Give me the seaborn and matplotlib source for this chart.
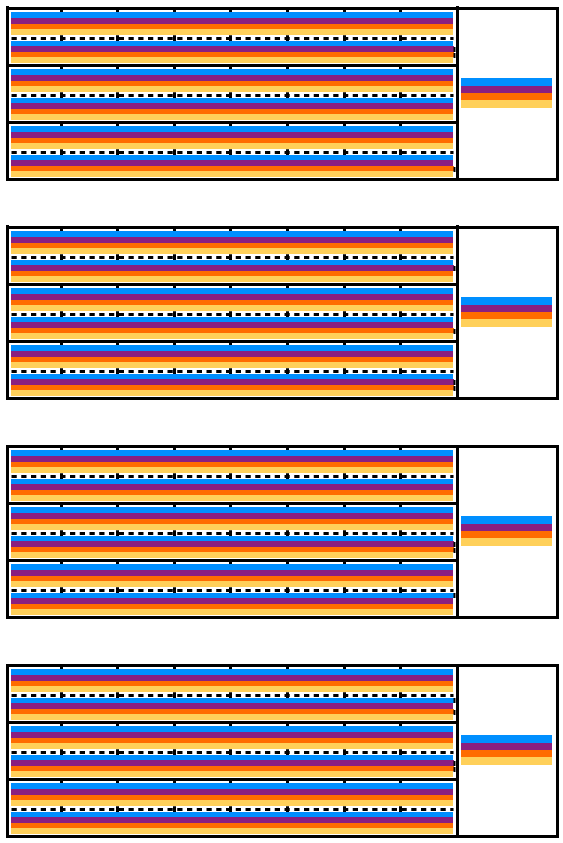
import numpy as np
import pandas as pd
import matplotlib
matplotlib.use("Agg")
import matplotlib.pyplot as plt
import seaborn as sns

# ---------------- data ----------------
categories = ["A", "B"]
series = ["S1", "S2", "S3", "S4"]
colors = ["#008FFF", "#8A1F80", "#FF6C00", "#FFD05A"]
bar_value = 100.0
spread_value = 100.5
# (panel, row, category, series) of bars that carry a small visible error range
spread_bars = [
    (0, 0, "B", "S2"), (0, 0, "B", "S3"), (0, 2, "B", "S3"),
    (1, 0, "B", "S2"), (1, 1, "B", "S3"), (1, 2, "B", "S2"), (1, 2, "B", "S3"),
    (2, 1, "B", "S2"), (2, 1, "B", "S3"), (2, 2, "B", "S1"),
    (3, 0, "B", "S1"), (3, 0, "B", "S3"), (3, 1, "B", "S2"), (3, 1, "B", "S3"),
]
tick_values = [11.2, 24.0, 36.8, 49.6, 62.5, 75.3, 88.1]
n_panels = 4
n_rows = 3

records = []
for p in range(n_panels):
    for r in range(n_rows):
        for c in categories:
            for s in series:
                records.append((p, r, c, s, bar_value))
                if (p, r, c, s) in spread_bars:
                    records.append((p, r, c, s, spread_value))
df = pd.DataFrame(records, columns=["panel", "row", "category", "series", "value"])

# ---------------- plot ----------------
sns.set_theme(style="white")
plt.rcParams["font.family"] = ["DejaVu Sans"]

W, H = 563, 843
fig = plt.figure(figsize=(W / 100, H / 100), dpi=100)
outer = fig.add_gridspec(n_panels, 1, left=7.5 / W, right=556.5 / W,
                         top=1 - 7.5 / H, bottom=1 - 835.5 / H, hspace=48 / 171)
lw = 2.16
y_bottom, y_top = 1.45, -0.57
mid_loc = (y_bottom - 0.5) / (y_bottom - y_top)

for p in range(n_panels):
    inner = outer[p].subgridspec(n_rows, 2, width_ratios=[449, 100], hspace=0, wspace=0)
    handles = None
    for r in range(n_rows):
        ax = fig.add_subplot(inner[r, 0])
        sub = df[(df.panel == p) & (df.row == r)]
        sns.barplot(data=sub, x="value", y="category", hue="series",
                    order=categories, hue_order=series, palette=colors,
                    saturation=1, width=0.8, orient="h",
                    errorbar=("pi", 100), linewidth=0, edgecolor="none",
                    err_kws={"color": "black", "linewidth": 3.6, "solid_capstyle": "butt"},
                    ax=ax, legend=(r == 0))
        if r == 0:
            handles, _ = ax.get_legend_handles_labels()
            ax.get_legend().remove()
        ax.set_xlim(-0.8, 100.8)
        ax.set_ylim(y_bottom, y_top)
        ax.hlines(0.5, 0, bar_value, colors="black", linewidth=lw,
                  linestyles=(0, (1.75, 1.5)), zorder=3)
        ax.set_xticks(tick_values)
        ax.tick_params(axis="x", top=True, bottom=False, direction="in", length=3.3,
                       width=lw, labeltop=False, labelbottom=False, color="black")
        ax.tick_params(axis="y", left=False, labelleft=False)
        ax.set_xlabel("")
        ax.set_ylabel("")
        for sp in ax.spines.values():
            sp.set_visible(True)
            sp.set_linewidth(lw)
            sp.set_color("black")
        sec = ax.secondary_xaxis(mid_loc)
        sec.set_xticks(tick_values)
        sec.tick_params(axis="x", which="both", direction="inout", length=5, width=lw,
                        top=True, bottom=True,
                        labeltop=False, labelbottom=False, color="black")
        for sp in sec.spines.values():
            sp.set_visible(False)

    axr = fig.add_subplot(inner[:, 1])
    axr.set_xticks([])
    axr.set_yticks([])
    for sp in axr.spines.values():
        sp.set_visible(True)
        sp.set_linewidth(lw)
        sp.set_color("black")
    for h in handles:
        h.set_linewidth(0)
        h.set_edgecolor("none")
    axr.legend(handles, [""] * len(series), loc="center", frameon=False,
               fontsize=4.4, handlelength=14.9, handleheight=1.5,
               handletextpad=0, labelspacing=0, borderpad=0, borderaxespad=0)

fig.savefig("out.png", dpi=100)
